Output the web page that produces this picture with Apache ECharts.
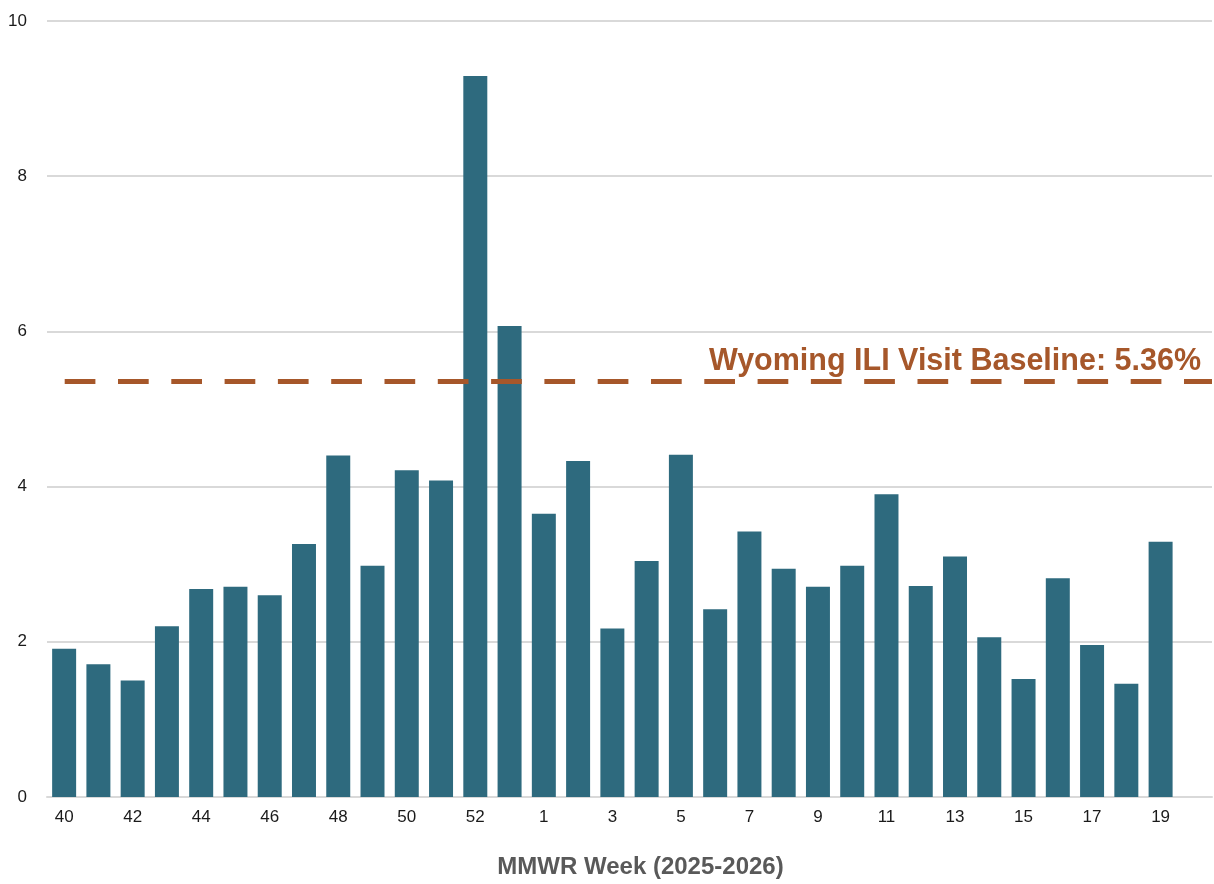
<!DOCTYPE html>
<html>
<head>
<meta charset="utf-8">
<script src="https://cdn.jsdelivr.net/npm/echarts@6/dist/echarts.min.js"></script>
<style>
  html, body { margin: 0; padding: 0; background: #fff; }
  #container { width: 1214px; height: 884px; }
</style>
</head>
<body>
<div id="container"></div>
<script>
// MMWR weeks, 2025-2026 season (week 20 not reported yet)
var weeks = ['40', '41', '42', '43', '44', '45', '46', '47', '48', '49', '50', '51', '52', '53',
    '1', '2', '3', '4', '5', '6', '7', '8', '9', '10', '11', '12', '13', '14', '15', '16', '17', '18', '19', '20'];
var iliPercent = [1.91, 1.71, 1.50, 2.20, 2.68, 2.71, 2.60, 3.26, 4.40, 2.98, 4.21, 4.08, 9.29, 6.07,
    3.65, 4.33, 2.17, 3.04, 4.41, 2.42, 3.42, 2.94, 2.71, 2.98, 3.90, 2.72, 3.10, 2.06, 1.52, 2.82, 1.96, 1.46, 3.29, null];
var baseline = 5.36;
var baselineLabel = 'Wyoming ILI Visit Baseline: 5.36%';

var barColor = '#2e6a7e';
var baseColor = '#a6572a';
var gridColor = '#d9d9d9';
var font = 'Liberation Sans, Arial, sans-serif';

var option = {
    animation: false,
    backgroundColor: '#fff',
    grid: {
        left: 47,
        right: 2,
        top: 21,
        bottom: 83
    },
    xAxis: {
        type: 'category',
        data: weeks,
        name: 'MMWR Week (2025-2026)',
        nameLocation: 'middle',
        nameGap: 58,
        nameTextStyle: {
            fontFamily: font,
            fontSize: 24,
            fontWeight: 'bold',
            color: '#595959',
            padding: [0, 0, 0, 22]
        },
        axisLine: { lineStyle: { color: gridColor, width: 2 } },
        axisTick: { show: false },
        axisLabel: {
            interval: 1,
            margin: 12,
            fontFamily: font,
            fontSize: 17,
            color: '#1a1a1a'
        }
    },
    yAxis: {
        type: 'value',
        min: 0,
        max: 10,
        interval: 2,
        axisLine: { show: false },
        axisTick: { show: false },
        axisLabel: {
            margin: 20,
            fontFamily: font,
            fontSize: 17,
            color: '#1a1a1a'
        },
        splitLine: { lineStyle: { color: gridColor, width: 2 } }
    },
    series: [{
        type: 'bar',
        data: iliPercent,
        barWidth: '70%',
        itemStyle: { color: barColor },
        markLine: {
            silent: true,
            symbol: 'none',
            lineStyle: {
                color: baseColor,
                width: 5,
                type: [30.7, 22.6],
                dashOffset: 35.6
            },
            label: {
                show: true,
                position: 'insideEndTop',
                distance: [11, 4],
                formatter: baselineLabel,
                fontFamily: font,
                fontSize: 30.5,
                fontWeight: 'bold',
                color: baseColor
            },
            data: [{ yAxis: baseline }]
        }
    }]
};

var myChart = echarts.init(document.getElementById('container'));
myChart.setOption(option);
</script>
</body>
</html>
